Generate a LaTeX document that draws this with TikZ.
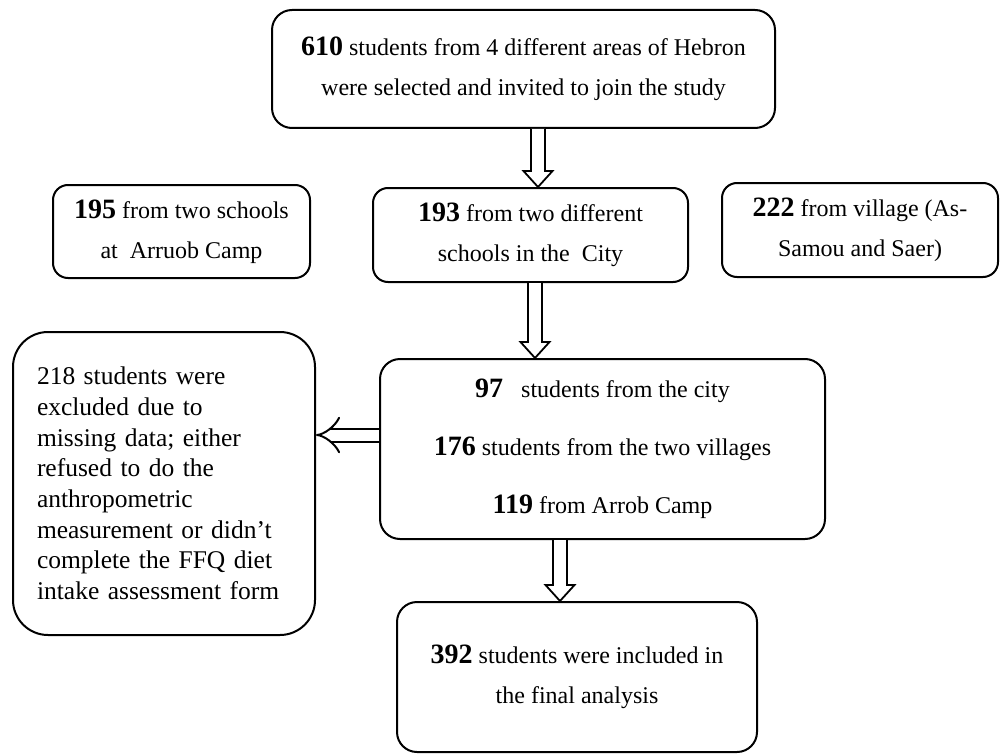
\documentclass[tikz,border=0pt]{standalone}
\usepackage{fontspec}
\setmainfont{Liberation Serif}
\usetikzlibrary{calc,arrows.meta}
\newcommand\bnum[1]{{\fontsize{28}{28}\selectfont\bfseries #1}}
\newcommand\blockarr[2]{%
  \draw[barrow] ($(#1)+(-7,0)$) -- ($(#2)+(-7,16)$) -- ($(#2)+(-14.5,16)$) -- (#2)
    -- ($(#2)+(14.5,16)$) -- ($(#2)+(7,16)$) -- ($(#1)+(7,0)$);}
\begin{document}
\begin{tikzpicture}[x=1pt,y=1pt,
  box/.style={draw, line width=2pt, rounded corners=#1, align=center, inner sep=0pt,
    font=\fontsize{24}{40}\selectfont, anchor=center},
  barrow/.style={draw, fill=white, line width=1.8pt, line join=miter},
  dblarrow/.style={draw, line width=2pt, double, double distance=11pt, -{Implies[length=9pt,width=30pt]}}]
\useasboundingbox (0,0) rectangle (1000,-754);
\node[box=20, minimum width=503, minimum height=118] (top) at (523.5,-69)
  {\bnum{610} students from 4 different areas of Hebron\\ were selected and invited to join the study};
\node[box=15, minimum width=257, minimum height=93] (l195) at (181.5,-231.5)
  {\bnum{195} from two schools\\ at\ \ Arruob Camp};
\node[box=15, minimum width=315, minimum height=94] (city) at (530.5,-235)
  {\bnum{193} from two different\\ schools in the\ \ City};
\node[box=15, minimum width=276, minimum height=94] (r222) at (860,-230)
  {\bnum{222} from village (As-\\ Samou and Saer)};
\node[box=20, minimum width=445, minimum height=180, font=\fontsize{24}{58}\selectfont] (mid) at (602.5,-449)
  {\bnum{97}\ \ \ students from the city\\ \bnum{176} students from the two villages\\ \bnum{119}\ from Arrob Camp};
\node[box=35, minimum width=302, minimum height=303, align=left, text width=254pt,
  font=\fontsize{25.5}{30.7}\selectfont] (l218) at (164,-483.5)
  {218 students were\\ excluded\ due to\\ missing data; either\\ refused to do the\\ anthropometric\\ measurement\ or didn’t\\ complete the FFQ diet\\ intake assessment\ form};
\node[box=20, minimum width=360, minimum height=150] (bot) at (577,-677)
  {\bnum{392} students were included in\\ the final analysis};
\coordinate (a1s) at ([xshift=14.5pt]top.south);
\coordinate (a1e) at (a1s |- city.north);
\coordinate (a2s) at ([xshift=4.5pt]city.south);
\coordinate (a2e) at (a2s |- mid.north);
\coordinate (a3s) at ([xshift=-42.5pt]mid.south);
\coordinate (a3e) at (a3s |- bot.north);
\blockarr{a1s}{a1e}
\blockarr{a2s}{a2e}
\blockarr{a3s}{a3e}
\coordinate (da) at ([yshift=14pt]mid.west);
\draw[dblarrow] (da) -- (da -| l218.east);
\end{tikzpicture}
\end{document}
